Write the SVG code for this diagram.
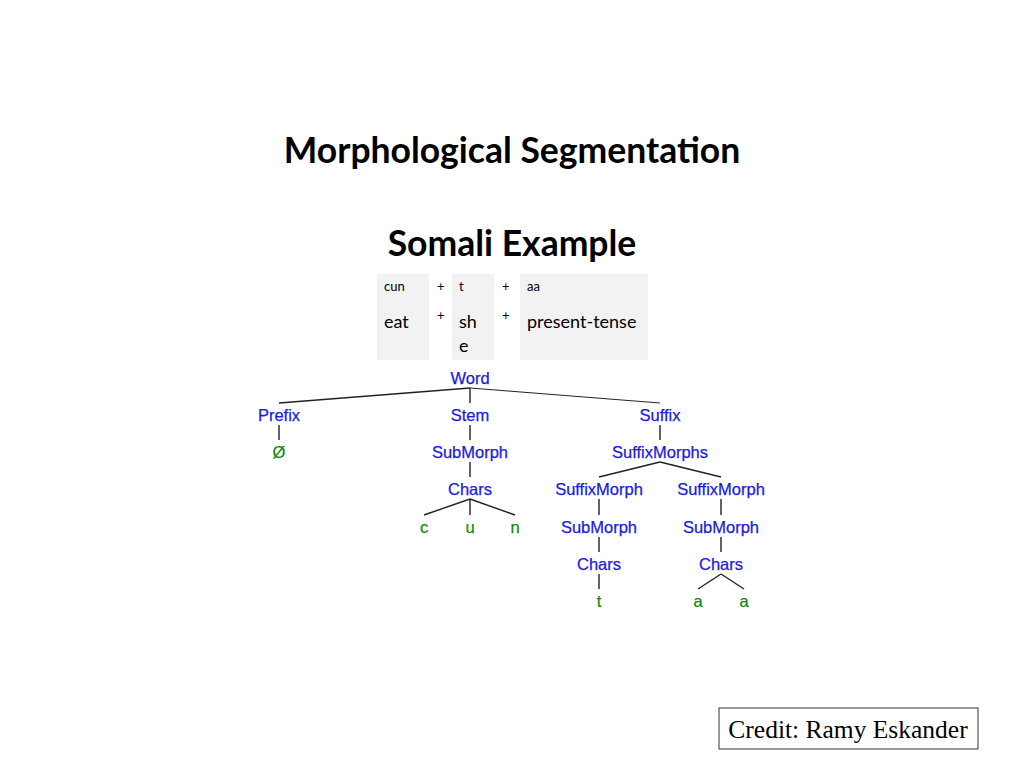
<svg xmlns="http://www.w3.org/2000/svg" width="1024" height="768" viewBox="0 0 1024 768">
<style>
.t{font-family:Lato,"Liberation Sans",sans-serif;font-weight:bold;font-size:35.5px;text-anchor:middle;fill:#000}
.s{font-family:Lato,"Liberation Sans",sans-serif;fill:#000}
.n{font-family:"Liberation Sans",Arial,sans-serif;font-size:16.5px;text-anchor:middle;fill:#1a1ae0;stroke:#1a1ae0;stroke-width:0.25}
.l{font-family:"Liberation Sans",Arial,sans-serif;font-size:16.5px;text-anchor:middle;fill:#138a13;stroke:#138a13;stroke-width:0.25}
.box{fill:#f2f2f2}
#edges line{stroke:#222;stroke-width:1.4}
</style>
<rect width="1024" height="768" fill="#fff"/>
<text class="t" x="512" y="163">Morphological Segmentation</text>
<text class="t" x="512" y="256">Somali Example</text>
<g id="gloss">
<rect class="box" x="377" y="274" width="52" height="86"/>
<rect class="box" x="452" y="274" width="42" height="86"/>
<rect class="box" x="520" y="274" width="128" height="86"/>
<g class="s" font-size="13">
<text x="384" y="291">cun</text><text x="437" y="291">+</text><text x="459" y="291">t</text><text x="502" y="291">+</text><text x="527" y="291">aa</text>
<text x="437" y="320">+</text><text x="502" y="320">+</text>
</g>
<g class="s" font-size="18">
<text x="384" y="328">eat</text><text x="459" y="328">sh</text><text x="459" y="352">e</text><text x="527" y="328">present-tense</text>
</g>
</g>
<g id="edges">
<line x1="470" y1="388" x2="279" y2="403"/><line x1="470" y1="388" x2="470" y2="403"/><line x1="470" y1="388" x2="660" y2="403" style="stroke-width:1"/>
<line x1="279" y1="425" x2="279" y2="440"/><line x1="470" y1="425" x2="470" y2="440"/><line x1="660" y1="425" x2="660" y2="440"/>
<line x1="470" y1="462" x2="470" y2="477"/>
<line x1="660" y1="462" x2="599" y2="477"/><line x1="660" y1="462" x2="721" y2="477"/>
<line x1="470" y1="499" x2="424" y2="515"/><line x1="470" y1="499" x2="470" y2="515"/><line x1="470" y1="499" x2="515" y2="515"/>
<line x1="599" y1="499" x2="599" y2="515"/><line x1="721" y1="499" x2="721" y2="515"/>
<line x1="599" y1="537" x2="599" y2="552"/><line x1="721" y1="537" x2="721" y2="552"/>
<line x1="599" y1="574" x2="599" y2="589"/>
<line x1="721" y1="574" x2="698" y2="589"/><line x1="721" y1="574" x2="744" y2="589"/>
</g>
<g id="n-word"><text class="n" x="470" y="384">Word</text></g>
<g id="n-prefix"><text class="n" x="279" y="421">Prefix</text></g>
<g id="n-stem"><text class="n" x="470" y="421">Stem</text></g>
<g id="n-suffix"><text class="n" x="660" y="421">Suffix</text></g>
<g id="n-null"><text class="l" x="279" y="458">Ø</text></g>
<g id="n-sub1"><text class="n" x="470" y="458">SubMorph</text></g>
<g id="n-sms"><text class="n" x="660" y="458">SuffixMorphs</text></g>
<g id="n-chars1"><text class="n" x="470" y="495">Chars</text></g>
<g id="n-sm1"><text class="n" x="599" y="495">SuffixMorph</text></g>
<g id="n-sm2"><text class="n" x="721" y="495">SuffixMorph</text></g>
<g id="n-c"><text class="l" x="424" y="533">c</text></g>
<g id="n-u"><text class="l" x="470" y="533">u</text></g>
<g id="n-n"><text class="l" x="515" y="533">n</text></g>
<g id="n-sub2"><text class="n" x="599" y="533">SubMorph</text></g>
<g id="n-sub3"><text class="n" x="721" y="533">SubMorph</text></g>
<g id="n-chars2"><text class="n" x="599" y="570">Chars</text></g>
<g id="n-chars3"><text class="n" x="721" y="570">Chars</text></g>
<g id="n-t"><text class="l" x="599" y="607">t</text></g>
<g id="n-a1"><text class="l" x="698" y="607">a</text></g>
<g id="n-a2"><text class="l" x="744" y="607">a</text></g>
<g id="credit">
<rect x="719" y="708" width="259" height="41" fill="#fff" stroke="#333" stroke-width="1"/>
<text x="848" y="738" font-family="'Liberation Serif',serif" font-size="25.5" text-anchor="middle">Credit: Ramy Eskander</text>
</g>
</svg>
